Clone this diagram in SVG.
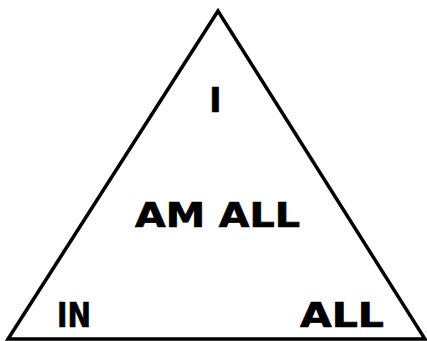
<svg xmlns="http://www.w3.org/2000/svg" width="427" height="341" viewBox="0 0 427 341">
<style>
.t{font-family:"DejaVu Sans","Liberation Sans",sans-serif;font-weight:bold;font-size:33px;fill:#000;stroke:#000;stroke-width:0.7}
.edge{fill:none;stroke:#000;stroke-width:3.5;stroke-linejoin:miter}
</style>
<rect width="427" height="341" fill="#fff"/>
<g id="connectors">
<polygon class="edge" points="218,11 8,339 425,339"/>
</g>
<g id="node-i"><text class="t" x="215.5" y="112" text-anchor="middle">I</text></g>
<g id="node-am-all"><text class="t" x="135" y="227" textLength="165" lengthAdjust="spacingAndGlyphs">AM ALL</text></g>
<g id="node-in"><text class="t" x="57" y="327" textLength="34" lengthAdjust="spacingAndGlyphs">IN</text></g>
<g id="node-all"><text class="t" x="300" y="327" textLength="84" lengthAdjust="spacingAndGlyphs">ALL</text></g>
</svg>
